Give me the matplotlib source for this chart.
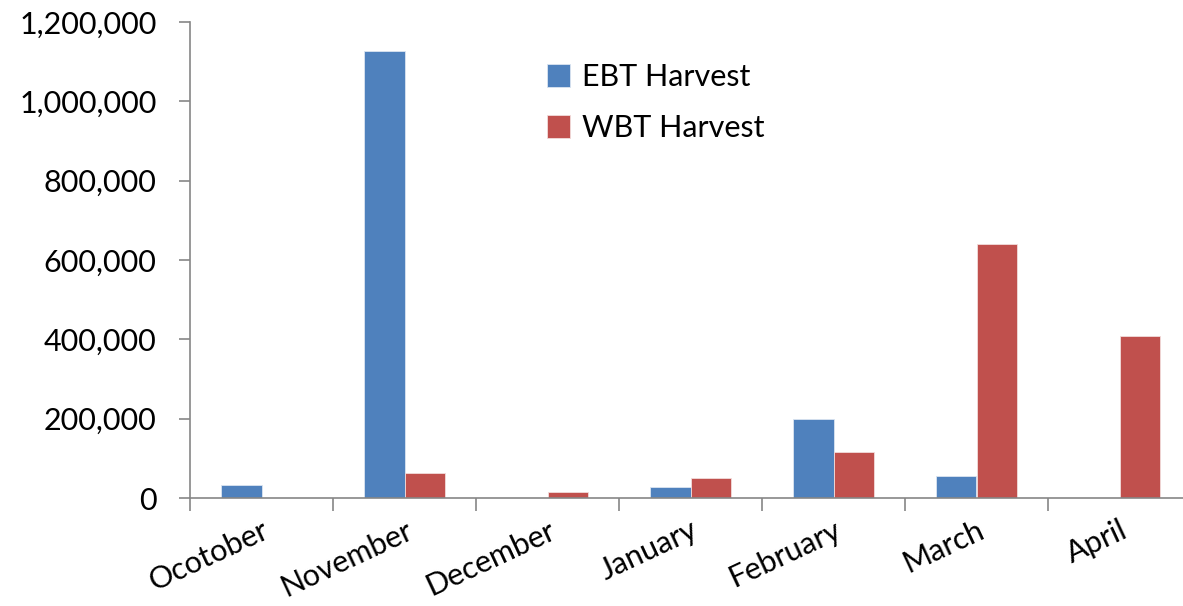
import matplotlib.pyplot as plt
import numpy as np
from matplotlib.ticker import FuncFormatter, FixedLocator

months = ['Ocotober', 'November', 'December', 'January', 'February', 'March', 'April']
ebt = [33000, 1127000, 0, 27000, 198000, 55000, 0]
wbt = [0, 64000, 16000, 51000, 115000, 640000, 408000]

plt.rcParams['font.family'] = ['Lato', 'DejaVu Sans']

fig = plt.figure(figsize=(11.83, 6.06), dpi=100)
ax = fig.add_axes([190 / 1183, 1 - 498 / 606, 1001 / 1183, 476 / 606])

x = np.arange(len(months))
w = 1 / 3.5
ax.bar(x - w / 2, ebt, w, color='#4F81BD', edgecolor='#dbe5f1', linewidth=0.6, label='EBT Harvest')
ax.bar(x + w / 2, wbt, w, color='#C0504D', edgecolor='#f2dcdb', linewidth=0.6, label='WBT Harvest')

ax.set_xlim(-0.5, len(months) - 0.5)
ax.set_ylim(0, 1200000)
ax.set_yticks(np.arange(0, 1200001, 200000))
ax.yaxis.set_major_formatter(FuncFormatter(lambda v, p: f'{int(v):,}'))

ax.set_xticks(x)
ax.set_xticklabels(months, rotation=25, ha='right', va='top', rotation_mode='anchor', fontsize=22)
ax.tick_params(axis='x', length=0, pad=13)
ax.xaxis.set_minor_locator(FixedLocator(np.arange(-0.5, len(months), 1)))
ax.tick_params(axis='x', which='minor', length=9, width=1.2, color='#868686')
ax.tick_params(axis='y', length=8, width=1.2, color='#868686', labelsize=22, pad=16)

for s in ['top', 'right']:
    ax.spines[s].set_visible(False)
for s in ['left', 'bottom']:
    ax.spines[s].set_color('#868686')
    ax.spines[s].set_linewidth(1.2)

ax.legend(loc='upper left', bbox_to_anchor=(532 / 1183, 1 - 48 / 606), bbox_transform=fig.transFigure,
          frameon=False, fontsize=22, handlelength=0.75, handleheight=0.75, handletextpad=0.4,
          labelspacing=0.75, borderpad=0)

fig.savefig('out.png', dpi=100)
